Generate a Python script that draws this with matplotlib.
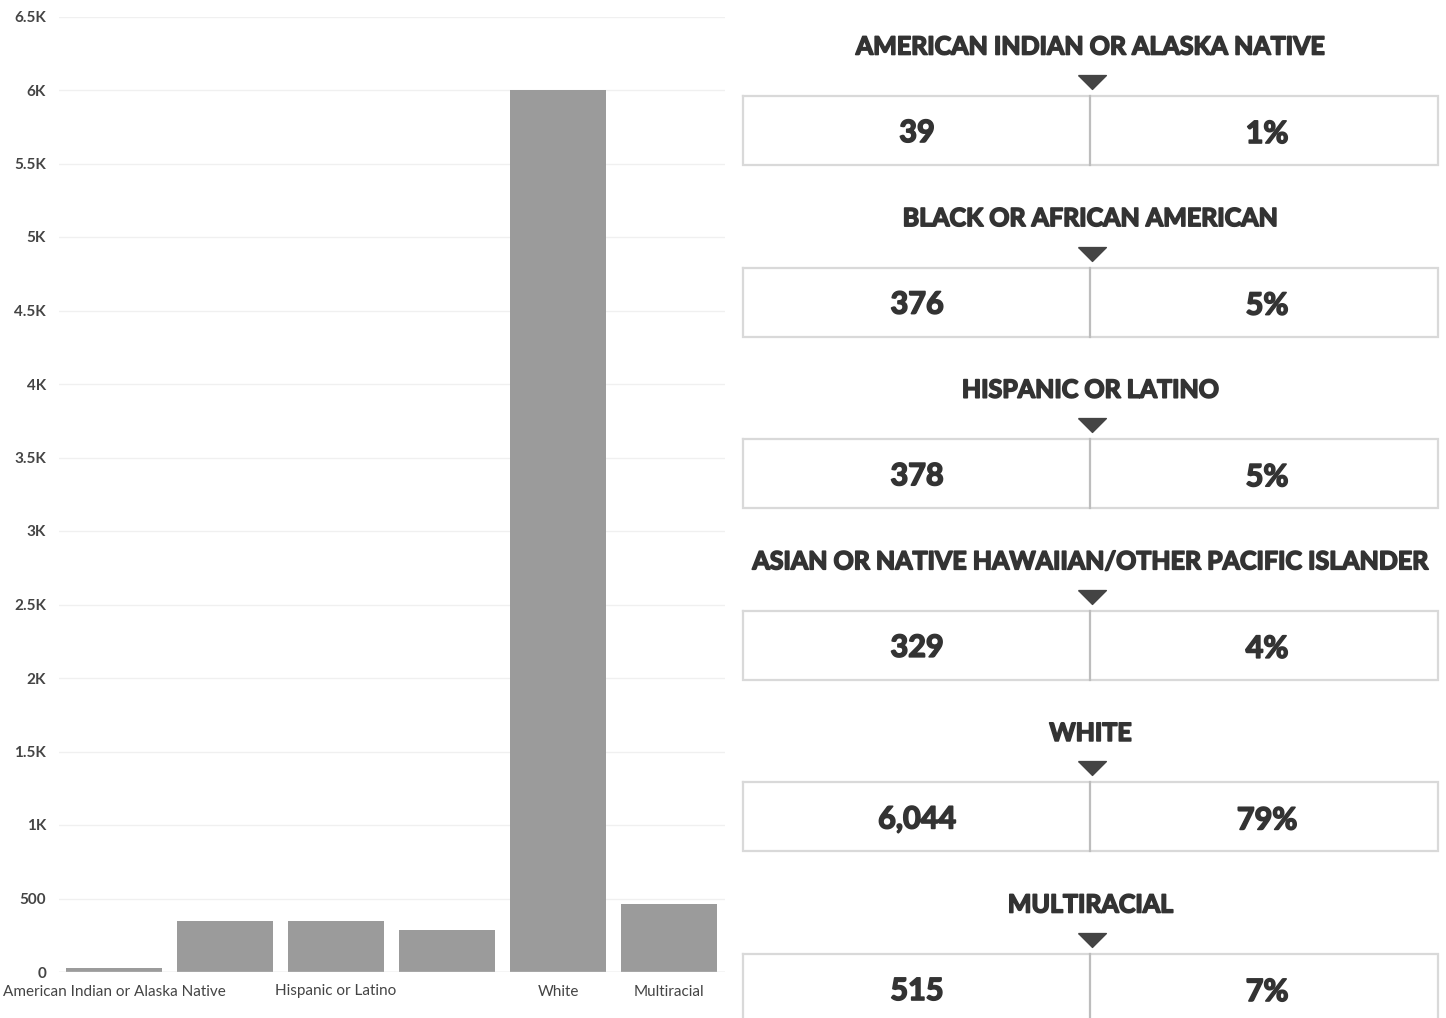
import matplotlib.pyplot as plt
import matplotlib.patheffects as pe
from matplotlib.ticker import FuncFormatter
import numpy as np

plt.rcParams['font.family'] = ['Lato', 'DejaVu Sans']

# bar chart data
categories = ['American Indian or Alaska Native', 'Black or African American',
              'Hispanic or Latino', 'Asian or Native Hawaiian/Other Pacific Islander',
              'White', 'Multiracial']
bar_values = [25, 350, 350, 285, 6000, 460]
shown_labels = ['American Indian or Alaska Native', '', 'Hispanic or Latino', '', 'White', 'Multiracial']

# summary cards
card_titles = ['AMERICAN INDIAN OR ALASKA NATIVE', 'BLACK OR AFRICAN AMERICAN',
               'HISPANIC OR LATINO', 'ASIAN OR NATIVE HAWAIIAN/OTHER PACIFIC ISLANDER',
               'WHITE', 'MULTIRACIAL']
card_counts = ['39', '376', '378', '329', '6,044', '515']
card_pcts = ['1%', '5%', '5%', '4%', '79%', '7%']

W, H = 1446, 1018
fig = plt.figure(figsize=(W / 100, H / 100), dpi=100)

# left: bar chart
ax = fig.add_axes([58.5 / W, 46 / H, 666 / W, 955.5 / H])
x = np.arange(len(categories))
ax.bar(x, bar_values, width=0.87, color='#9b9b9b')
ax.set_xlim(-0.5, 5.5)
ax.set_ylim(0, 6500)
ax.set_yticks(np.arange(0, 6501, 500))
ax.yaxis.set_major_formatter(FuncFormatter(lambda v, p: f'{v / 1000:g}K' if v >= 1000 else f'{v:g}'))
ax.set_xticks(x)
ax.set_xticklabels(shown_labels)
ax.tick_params(axis='both', length=0, colors='#444444')
ax.tick_params(axis='y', pad=9, labelsize=11)
ax.tick_params(axis='x', pad=9, labelsize=11)
for lab in ax.get_yticklabels():
    lab.set_fontweight('bold')
ax.grid(axis='y', color='#f0f0f0', linewidth=1)
ax.set_axisbelow(True)
for s in ax.spines.values():
    s.set_visible(False)
ax.axhline(0, color='#dddddd', linewidth=1)

# right: cards, drawn in pixel coordinates
ax2 = fig.add_axes([0, 0, 1, 1], facecolor='none')
ax2.set_xlim(0, W)
ax2.set_ylim(H, 0)
ax2.axis('off')

heavy = [pe.withStroke(linewidth=1.2, foreground='#333333')]
tri = [(-1, 0.5), (1, 0.5), (0, -0.5), (-1, 0.5)]
left, right, mid = 743, 1438, 1090
for i, title in enumerate(card_titles):
    ty = 47 + 171.6 * i
    ax2.text((left + right) / 2, ty, title, ha='center', va='center',
             fontsize=18, fontweight='bold', color='#333333', path_effects=heavy)
    ax2.plot(mid + 2, ty + 35, marker=tri, markersize=20, color='#444444')
    top, bot = ty + 49, ty + 118
    ax2.plot([left, right, right, left, left], [top, top, bot, bot, top],
             color='#d9d9d9', linewidth=1.6, solid_joinstyle='miter')
    ax2.plot([mid, mid], [top, bot], color='#bdbdbd', linewidth=1.6)
    ax2.text(917, ty + 86, card_counts[i], ha='center', va='center',
             fontsize=22, fontweight='bold', color='#333333', path_effects=heavy)
    ax2.text(1267, ty + 87, card_pcts[i], ha='center', va='center',
             fontsize=22, fontweight='bold', color='#333333', path_effects=heavy)

fig.savefig('out.png', dpi=100, facecolor='white')
